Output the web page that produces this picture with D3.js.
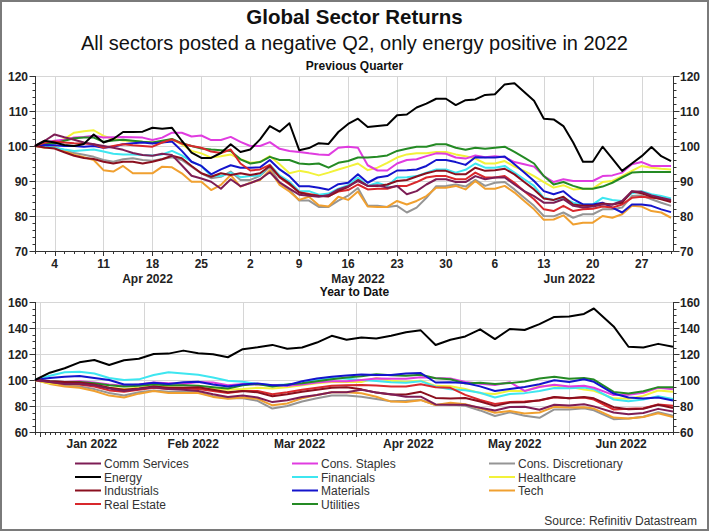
<!DOCTYPE html>
<html><head><meta charset="utf-8">
<script src="https://cdn.jsdelivr.net/npm/d3@7"></script>
<style>body{margin:0;background:#fff} svg{display:block;font-family:"Liberation Sans",Arial,sans-serif}</style>
</head><body><svg id="c" width="709" height="531"></svg>
<script>
// ---------------- DATA ----------------
const sectors = ["Comm Services","Cons. Staples","Cons. Discretionary","Energy","Financials","Healthcare","Industrials","Materials","Tech","Real Estate","Utilities"];
const sectorColors = ["#7d1d55","#e03ce0","#959595","#000000","#3ee6f0","#f2f23a","#8a0f1e","#1414cc","#f0a030","#d8282c","#248a24"];
// draw order (index into sectors)
const drawOrder = [2,8,5,4,1,10,7,9,6,0,3];

// Previous quarter (weekdays)
const qtdDates = ["2022-03-31","2022-04-01","2022-04-04","2022-04-05","2022-04-06","2022-04-07","2022-04-08","2022-04-11","2022-04-12","2022-04-13","2022-04-14","2022-04-15","2022-04-18","2022-04-19","2022-04-20","2022-04-21","2022-04-22","2022-04-25","2022-04-26","2022-04-27","2022-04-28","2022-04-29","2022-05-02","2022-05-03","2022-05-04","2022-05-05","2022-05-06","2022-05-09","2022-05-10","2022-05-11","2022-05-12","2022-05-13","2022-05-16","2022-05-17","2022-05-18","2022-05-19","2022-05-20","2022-05-23","2022-05-24","2022-05-25","2022-05-26","2022-05-27","2022-05-30","2022-05-31","2022-06-01","2022-06-02","2022-06-03","2022-06-06","2022-06-07","2022-06-08","2022-06-09","2022-06-10","2022-06-13","2022-06-14","2022-06-15","2022-06-16","2022-06-17","2022-06-20","2022-06-21","2022-06-22","2022-06-23","2022-06-24","2022-06-27","2022-06-28","2022-06-29","2022-06-30"];
const qtdComm = [100,101.5,103.3,102.5,101.8,101,100.5,100,99.5,98.9,98,97.4,97.2,97.8,97.4,94.5,91.5,90.7,89.8,87.8,90.5,88.5,89.4,90.5,92.5,89.6,87.8,86.1,85.8,85.5,86,87.6,88.5,90,88.6,88.8,88.1,88.6,86.2,87.1,89,90.5,90.5,89.7,89.7,91.4,90.5,91,91,89,87.1,85.7,83.8,83.8,84.8,82.9,82.4,82.7,83.3,83.3,84.3,87.1,86.9,85.9,85.2,84.6];
const qtdStaples = [100,101,101.5,101.8,102.4,102.6,102.9,102.4,102.5,102.6,102.5,102.4,101.7,102.4,103.8,103.8,102.7,103,101.7,101.7,102.6,101.2,100,100,101.1,99.2,98.6,98.3,97.9,97.6,97.4,99.5,99.8,99.5,94.5,93,93,95,96,96.2,97.1,97.9,97.8,96.7,96.4,97.3,96.8,97.1,96.8,95.4,94.8,94.1,91.4,89.7,90.5,90,90,90,91.4,91.6,92.4,94.8,95.4,94.3,94.3,94.3];
const qtdDisc = [100,100,99.6,98.8,98,97.5,96.9,96,95.5,96.2,96.5,96,95.8,96.3,96.8,96,94.1,92.2,90.8,91.2,92.7,90.3,90.3,91.5,94,89.5,87.5,84.4,84.4,82.6,82.6,84.4,85.8,88,82.9,82.9,82.6,82.9,81,82.4,85.2,88.5,88.6,89,88.4,90.3,88.6,89.5,89.7,87.6,85.2,82.9,80,79.9,81,79.5,80.5,80.5,81.9,81.9,82.4,85.7,85.9,84.8,83.8,82.9];
const qtdEnergy = [100,101.5,101,100.3,100,100.6,103.3,101,102,104,104,104.1,105.2,104.9,105.2,101.5,98.1,96.6,96.6,98,100.5,98.3,99,101.9,105.7,104.1,106.5,98.8,99.4,100.8,100.6,104,106.3,107.8,105.4,105.7,106,108.8,109,111,112.1,113.5,113.5,111.7,113.1,113.3,114.6,114.8,117.6,117.9,115.4,112.9,107.8,107.6,105.7,101,95.5,95.5,99.8,96.4,92.9,95,97.1,99.7,97.1,95.7];
const qtdFin = [100,100,99.5,99,98.6,98.8,99,98.4,97.8,97.6,97.6,97.4,97.3,97.6,98.6,97.3,95.5,94.3,91.5,91.4,92.4,91.1,91.4,91.6,94.7,91.6,89.8,87.1,87.1,86.1,86.4,87.8,88.8,91,88.6,89.5,88.6,91,91.1,91.4,92.4,93.3,93.3,92.4,93.2,95,93.8,93.8,94.3,92.4,90.5,88.6,85.2,84.6,85.2,83.8,83.3,83.3,85.2,84.6,84.3,86.5,87.1,86.2,85.7,85];
const qtdHC = [100,100.5,101,102,103.8,104.2,104.5,102.9,102,101.6,101.4,101.2,101,101.3,101.9,100.5,98.6,97.9,96.7,97.1,97.6,96.2,95.2,95.5,97.1,94.8,92.2,92.9,92.4,91.6,92.4,93.3,94.1,95,93.1,93.8,95.2,96.7,97.6,97.9,97.9,98.3,98.3,97.6,97.1,96.4,95,95,95.7,94.1,92.9,91.4,89.7,88.1,88.8,87.6,87.8,87.8,89.7,90,91.4,92.9,94.3,93.8,93.5,93.3];
const qtdInd = [100,99.6,99.3,98.2,97.2,96.6,96.3,95.5,95,95.5,95.5,95,95.5,96.2,97.2,96.5,94.3,92.2,91.2,92.2,91.7,92.2,91.7,92.2,94.3,91.2,89.3,86.7,86.1,85.7,85.6,87.2,88.3,90.3,88.6,88.6,89,90,90.3,91.3,92.2,92.9,92.9,91.9,91.9,93.8,92.9,93.1,93.5,91.9,89.7,87.6,85,84.6,85.5,83.3,82.9,82.9,83.6,83.3,83.8,87,86.5,85.5,84.8,84];
const qtdMat = [100,100.3,100.2,100,100,99.8,100,99.5,99.8,100.5,100.8,101,100.7,101,101.3,98.6,95.5,94.3,91.9,93.3,94.5,93.8,93.8,93.9,96,93.3,91.4,88.5,88.5,88.1,87.5,89.1,89.5,91.9,89.5,91,91.4,93,93.1,93.3,94.3,96,96,95.4,94.6,96.8,96.7,96.7,97,94.8,92.4,90,87.1,86.2,87.1,84.8,83.3,83.3,83.8,82.4,81,83.3,83.3,82.9,81.9,81.1];
const qtdTech = [100,99.5,99.8,98.5,97.5,96.8,96,93.1,92.7,94.3,92.2,92.2,92.2,94.1,93.9,92.2,89.8,89.8,87.4,88.9,91.7,88.4,89.5,90.3,93.1,88.9,87,84.6,85.5,83.1,82.7,85.5,84.6,87,82.7,82.6,82.6,84.3,83.3,84.3,85.7,88.1,88.1,88.6,87.6,90,87.8,87.8,88.6,86.7,84.3,81.9,78.9,79,80.2,77.6,78.1,78.1,80,79.5,80.5,82.9,82.7,81.4,81,79.5];
const qtdRE = [100,101,101.3,101,100.8,100.7,100.5,99.5,100,100.5,100.2,100,99.8,101,101.9,100.7,100,99.5,98.4,98,99,95,93,93.3,94.6,91,89,86.8,86.3,85.8,85.7,87,87.4,89,87.6,87.8,87.8,88.6,88.6,89.7,91,91.4,91.4,90.5,90.5,92.4,91,91,91.4,89.5,87.1,84.8,81.9,81.4,82.9,81.4,81.9,82.1,82.7,82.4,83.3,85.2,85.5,85.2,85,84.3];
const qtdUtil = [100,100.5,100.8,101.5,102.2,102.4,102.4,101.2,101.6,101.8,101.5,101.2,101,101.5,102,100.8,100,99.3,99,98.8,98.6,96.2,95,95.4,96.9,96,96,95,94.8,95,93.8,95.2,95.7,96.7,96.7,96.9,97.3,98.6,99.2,99.8,99.8,100.5,100.5,99.5,98.9,99.5,99.2,99.5,99.8,98.3,96.7,95,91.4,89,89.7,88.6,87.8,87.8,88.4,89.5,91,92.4,92.6,92.6,92.6,92.6];
const qtdSeries = [qtdComm,qtdStaples,qtdDisc,qtdEnergy,qtdFin,qtdHC,qtdInd,qtdMat,qtdTech,qtdRE,qtdUtil];
const qtdTickDates = ["2022-04-04","2022-04-11","2022-04-18","2022-04-25","2022-05-02","2022-05-09","2022-05-16","2022-05-23","2022-05-30","2022-06-06","2022-06-13","2022-06-20","2022-06-27"];
const qtdMonthLabels = ["Apr 2022","May 2022","Jun 2022"];
const qtdMonthStarts = ["2022-04-01","2022-05-02","2022-06-01"];
const qtdYTicks = [70,80,90,100,110,120];

// Year to date (sampled weekdays)
const ytdDates = ["2021-12-31","2022-01-05","2022-01-10","2022-01-13","2022-01-18","2022-01-21","2022-01-26","2022-01-31","2022-02-03","2022-02-08","2022-02-11","2022-02-16","2022-02-21","2022-02-24","2022-03-01","2022-03-04","2022-03-09","2022-03-14","2022-03-17","2022-03-22","2022-03-25","2022-03-30","2022-04-04","2022-04-07","2022-04-12","2022-04-15","2022-04-20","2022-04-25","2022-04-28","2022-05-03","2022-05-06","2022-05-11","2022-05-16","2022-05-19","2022-05-24","2022-05-27","2022-06-01","2022-06-06","2022-06-08","2022-06-14","2022-06-17","2022-06-22","2022-06-27","2022-06-30"];
const ytdComm = [100,98.5,97,97,96,93.5,91.5,93,94.5,93,92.5,91.5,89,87,88,86.5,83,84.5,87,88.5,90.5,90.5,92.5,90.4,89.1,87.2,87.2,81.2,81,81,78.6,76.5,79.2,79.5,77.1,81,80.3,81.4,79.7,75,73.7,74.6,77.8,75.7];
const ytdStaples = [100,99,98.5,99,98,96.5,95.5,96.5,98,97.5,97,98.5,98,96,97,96.5,96,95.5,96.5,98,99,99,100,101.1,101,100.9,102.2,101.5,101.1,98.5,97.1,96.1,98.3,91.6,94.6,96.4,95,95.6,94,88.4,88.7,90.2,94,92.9];
const ytdDisc = [100,97.5,95.5,95,93,90,88,90.5,92,91,91,90.5,87.5,86,86,84,78,80,83.5,86,88,88,87.2,85.3,83.6,84,84.7,80.7,81.1,80.1,76.6,72.3,75.1,72.5,70.9,77.4,77.4,78.3,76.7,69.9,70.4,71.7,75.2,72.5];
const ytdEnergy = [100,105.6,109,113.6,115.4,111.5,115.2,116.4,120,120.3,122.6,120.6,119.8,117.5,123.7,125.2,127,124,125,128.8,134,130.9,132.7,132,134,136.8,138.2,126.9,131,133.5,139,131.5,139.2,138.5,143,148.5,148.8,150.8,155,141.2,125.6,125,127.8,125.5];
const ytdFin = [100,103.3,106,106.4,105,101.5,100,100.5,103.8,106,105,104,102,99.5,98.7,97,96,96.5,97.5,100,101.5,101,100,99.3,98.3,97.9,99.1,94.8,92.9,92.1,90.2,86.5,89.2,89.9,91.6,93.8,93.7,94.3,92.9,85,83.7,85,87.5,85.4];
const ytdHC = [100,97.5,97,96.5,96,94,93,94,95,94.5,94,93.5,93,92.5,93,94,93.5,94.5,96,97.5,98.5,98.5,98.5,101.6,99.5,98.7,99.4,95.5,95.2,93.1,89.9,89.3,91.7,91.5,95.2,95.8,94.7,92.6,91.7,85.9,85.6,87.8,91.9,91];
const ytdInd = [100,99,98.5,98,96.5,94,92.5,93.5,95,94,94,94.5,92.5,90.5,91.5,90.5,87.5,89,91,92.5,94,94.5,92.8,90.3,88.8,88.8,90.9,86.2,85.7,86.2,83.5,80.1,82.6,82.8,84.4,86.9,85.9,87,85.9,79.1,77.5,77.9,80.9,78.5];
const ytdMat = [100,101.5,102.5,103,101.5,100,96.5,96.6,97.9,97,98.2,98.7,96.6,95,96.5,97.4,96,96,99,101.2,102.5,103.5,104.2,103.8,103.8,105,105.4,98.1,98.3,97.7,95.1,91.6,93.1,94.6,96.8,99.8,98.4,100.6,98.6,89.6,86.6,85.7,86.6,84.3];
const ytdTech = [100,97,95,94,91.5,88,86.5,89.5,91.5,90,90,90,87,85.5,86.5,85.5,80.5,82,86,88.5,90.5,90.5,89.8,87.1,83.4,83,84.5,80.8,82.5,81.3,78.3,74.8,76.1,74.3,75,79.3,78.8,79,78,71.1,70.3,71.6,74.4,71.6];
const ytdRE = [100,98.5,97,96.5,95,92,91,92.5,94,93,93.5,93,91.5,90,91.5,91.5,89,90.5,92.5,94,95.5,96,96.2,95.7,95,95,96.8,94.5,94,88.6,84.6,81.5,83,83.4,84.2,86.8,86,86.5,85,77.3,77.8,78.3,81.2,80.1];
const ytdUtil = [100,99,98.5,98.5,97.5,96,95,95.5,96.5,96,96,95.5,94.5,93.5,96,97,95,96.5,97.5,99,100.5,102,102.8,104.4,103.6,103.2,104,101.3,100.6,97.3,97.9,96.9,97.6,98.8,101.2,102.5,100.9,101.5,100.3,90.8,89.6,91.3,94.5,94.5];
const ytdSeries = [ytdComm,ytdStaples,ytdDisc,ytdEnergy,ytdFin,ytdHC,ytdInd,ytdMat,ytdTech,ytdRE,ytdUtil];
const ytdMonthLabels = ["Jan 2022","Feb 2022","Mar 2022","Apr 2022","May 2022","Jun 2022"];
const ytdMonthStarts = ["2022-01-03","2022-02-01","2022-03-01","2022-04-01","2022-05-02","2022-06-01"];
const ytdYTicks = [60,80,100,120,140,160];

// ---------------- CHART ----------------
const parse = d3.utcParse("%Y-%m-%d");
function wdIndex(base, d) {
  let n = 0;
  for (let t = d3.utcDay.offset(base, 1); t <= d; t = d3.utcDay.offset(t, 1)) {
    const w = t.getUTCDay();
    if (w !== 0 && w !== 6) n++;
  }
  return n;
}
const svg = d3.select("#c");
svg.append("rect").attr("x",1).attr("y",1).attr("width",707).attr("height",529)
  .attr("fill","#fff").attr("stroke","#7a7a7a").attr("stroke-width",2);

svg.append("text").attr("x",354.5).attr("y",24).attr("text-anchor","middle")
  .attr("font-size",20.5).attr("font-weight","bold").attr("fill","#111").text("Global Sector Returns");
svg.append("text").attr("x",354.5).attr("y",50).attr("text-anchor","middle")
  .attr("font-size",20).attr("fill","#111").text("All sectors posted a negative Q2, only energy positive in 2022");

function panel(o) {
  const base = parse(o.dates[0]);
  const idx = o.dates.map(s => wdIndex(base, parse(s)));
  const x = d3.scaleLinear().domain([0, o.xMax]).range([35, 673]);
  const y = d3.scaleLinear().domain(o.yDomain).range([o.bottom, o.top]);
  const g = svg.append("g");
  const lblFont = {size: 12, weight: "bold", fill: "#222"};
  g.append("text").attr("x",354.5).attr("y",o.titleY).attr("text-anchor","middle")
    .attr("font-size",12).attr("font-weight","bold").attr("fill","#111").text(o.title);
  g.selectAll(".hg").data(o.yTicks).join("line")
    .attr("x1",35).attr("x2",673).attr("y1",d=>Math.round(y(d))+0.5).attr("y2",d=>Math.round(y(d))+0.5)
    .attr("stroke","#d6d6d6").attr("stroke-width",1);
  const vIdx = o.vGrid.map(s => wdIndex(base, parse(s)));
  g.selectAll(".vg").data(vIdx).join("line")
    .attr("x1",d=>Math.round(x(d))+0.5).attr("x2",d=>Math.round(x(d))+0.5).attr("y1",o.top).attr("y2",o.bottom)
    .attr("stroke","#d6d6d6").attr("stroke-width",1);
  const nDays = Math.floor(o.xMax);
  g.selectAll(".xm").data(d3.range(0, nDays+1)).join("line")
    .attr("x1",d=>Math.round(x(d))+0.5).attr("x2",d=>Math.round(x(d))+0.5)
    .attr("y1",o.bottom).attr("y2",o.bottom+3).attr("stroke","#333");
  g.selectAll(".xM").data(vIdx).join("line")
    .attr("x1",d=>Math.round(x(d))+0.5).attr("x2",d=>Math.round(x(d))+0.5)
    .attr("y1",o.bottom).attr("y2",o.bottom+5).attr("stroke","#333");
  const minors = d3.range(o.yDomain[0], o.yDomain[1] + 0.001, o.yMinor);
  [[35,-1],[673,1]].forEach(([ax,dir]) => {
    g.append("line").attr("x1",ax+0.5).attr("x2",ax+0.5).attr("y1",o.top).attr("y2",o.bottom)
      .attr("stroke","#333");
    g.selectAll(null).data(minors).join("line")
      .attr("x1",ax+0.5).attr("x2",ax+0.5+dir*3).attr("y1",d=>Math.round(y(d))+0.5).attr("y2",d=>Math.round(y(d))+0.5)
      .attr("stroke","#333");
    g.selectAll(null).data(o.yTicks).join("line")
      .attr("x1",ax+0.5).attr("x2",ax+0.5+dir*6).attr("y1",d=>Math.round(y(d))+0.5).attr("y2",d=>Math.round(y(d))+0.5)
      .attr("stroke","#333");
    g.selectAll(null).data(o.yTicks).join("text")
      .attr("x", dir<0 ? 28 : 680).attr("y",d=>y(d)+4.5)
      .attr("text-anchor", dir<0 ? "end" : "start")
      .attr("font-size",lblFont.size).attr("font-weight",lblFont.weight).attr("fill",lblFont.fill)
      .text(d=>d);
  });
  g.append("line").attr("x1",35).attr("x2",673.5).attr("y1",o.bottom+0.5).attr("y2",o.bottom+0.5).attr("stroke","#333");
  if (o.tickDates) {
    g.selectAll(".xl").data(o.tickDates).join("text")
      .attr("x",s=>x(wdIndex(base, parse(s)))).attr("y",o.bottom+16.5).attr("text-anchor","middle")
      .attr("font-size",lblFont.size).attr("font-weight",lblFont.weight).attr("fill",lblFont.fill)
      .text(s=>d3.utcFormat("%-d")(parse(s)));
  }
  const mIdx = o.monthStarts.map(s => wdIndex(base, parse(s)));
  g.selectAll(".ml").data(o.monthLabels).join("text")
    .attr("x",(d,i)=>x((mIdx[i] + (i < mIdx.length-1 ? mIdx[i+1] : o.xMax))/2))
    .attr("y",o.monthY).attr("text-anchor","middle")
    .attr("font-size",lblFont.size).attr("font-weight",lblFont.weight).attr("fill",lblFont.fill)
    .text(d=>d);
  const line = d3.line().x((v,i)=>x(idx[i])).y(v=>y(v)).curve(d3.curveLinear);
  drawOrder.forEach(k => {
    g.append("path").attr("d", line(o.series[k])).attr("fill","none")
      .attr("stroke", sectorColors[k]).attr("stroke-width",2).attr("stroke-linejoin","round");
  });
}

panel({title:"Previous Quarter", titleY:70, dates:qtdDates, series:qtdSeries, xMax:65.2,
  yDomain:[70,120], yTicks:qtdYTicks, yMinor:2, top:76, bottom:251,
  vGrid:qtdTickDates, tickDates:qtdTickDates, monthLabels:qtdMonthLabels, monthStarts:qtdMonthStarts, monthY:283});
panel({title:"Year to Date", titleY:296, dates:ytdDates, series:ytdSeries, xMax:129,
  yDomain:[60,160], yTicks:ytdYTicks, yMinor:5, top:302, bottom:432,
  vGrid:ytdMonthStarts, tickDates:null, monthLabels:ytdMonthLabels, monthStarts:ytdMonthStarts, monthY:448});

const colX = [75, 292, 489], rowY = [463.5, 477, 490.5, 504];
const leg = svg.append("g");
sectors.forEach((s, k) => {
  const cx = colX[k % 3], cy = rowY[Math.floor(k / 3)];
  leg.append("line").attr("x1",cx).attr("x2",cx+26).attr("y1",cy).attr("y2",cy)
    .attr("stroke",sectorColors[k]).attr("stroke-width",2);
  leg.append("text").attr("x",cx+29).attr("y",cy+4.5).attr("font-size",12).attr("fill","#333").text(s);
});
svg.append("text").attr("x",697).attr("y",525).attr("text-anchor","end")
  .attr("font-size",12).attr("fill","#333").text("Source: Refinitiv Datastream");
</script></body></html>
